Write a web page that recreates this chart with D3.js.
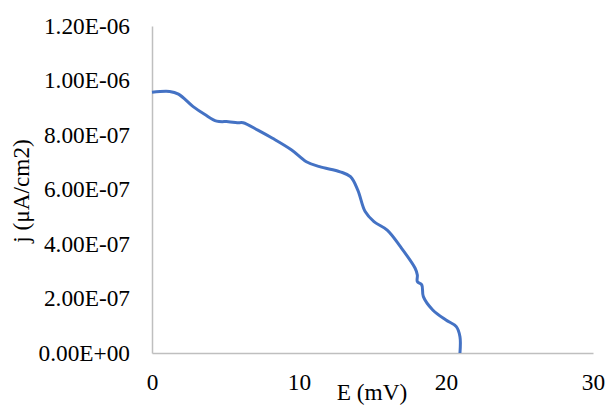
<!DOCTYPE html>
<html>
<head>
<meta charset="utf-8">
<script src="https://cdn.jsdelivr.net/npm/d3@7"></script>
<style>
  body { margin: 0; background: #fff; }
</style>
</head>
<body>
<svg width="606" height="406"></svg>
<script>
// E (mV) and j values
const eValues = [0, 1.2, 1.8, 2.8, 3.6, 4.4, 5.2, 5.8, 6.2, 7.2, 8.2, 9.5, 10.5, 11.4, 12.8, 13.5, 14.0, 14.5, 15.1, 16.0, 16.9, 17.9, 18.05, 18.05, 18.35, 18.46, 19.1, 20.0, 20.7, 20.95, 20.95];
const jValues = [0.957e-6, 0.96e-6, 0.95e-6, 0.904e-6, 0.875e-6, 0.851e-6, 0.849e-6, 0.845e-6, 0.845e-6, 0.818e-6, 0.788e-6, 0.745e-6, 0.702e-6, 0.684e-6, 0.665e-6, 0.647e-6, 0.598e-6, 0.519e-6, 0.482e-6, 0.451e-6, 0.39e-6, 0.311e-6, 0.286e-6, 0.262e-6, 0.25e-6, 0.207e-6, 0.158e-6, 0.121e-6, 0.097e-6, 0.06e-6, 0];
const xTicks = [0, 10, 20, 30];
const yTicks = [0, 2e-7, 4e-7, 6e-7, 8e-7, 1e-6, 1.2e-6];
const yTickLabels = ["0.00E+00", "2.00E-07", "4.00E-07", "6.00E-07", "8.00E-07", "1.00E-06", "1.20E-06"];

const data = eValues.map((e, i) => ({e: e, j: jValues[i]}));
const serif = "'Liberation Serif', 'Times New Roman', serif";
const fs = 23.3;

const svg = d3.select("svg");

const x = d3.scaleLinear().domain([0, 30]).range([152, 593]);
const y = d3.scaleLinear().domain([0, 1.2e-6]).range([353, 26]);

// x axis
const xAxis = svg.append("g")
  .attr("transform", "translate(0,353)")
  .call(d3.axisBottom(x).tickValues(xTicks).tickSize(0).tickPadding(20).tickFormat(d3.format("d")));
xAxis.attr("font-family", serif).attr("font-size", fs);
xAxis.select(".domain").attr("stroke", "#bfbfbf").attr("stroke-width", 1.5);
xAxis.selectAll("text").attr("fill", "#000");

// y axis
const yAxis = svg.append("g")
  .attr("transform", "translate(152,0)")
  .call(d3.axisLeft(y).tickValues(yTicks).tickSize(0).tickPadding(22)
    .tickFormat((d, i) => yTickLabels[i]));
yAxis.attr("font-family", serif).attr("font-size", fs);
yAxis.select(".domain").attr("stroke", "#bfbfbf").attr("stroke-width", 1.5);
yAxis.selectAll("text").attr("fill", "#000");

// the curve
const line = d3.line()
  .x(d => x(d.e))
  .y(d => y(d.j))
  .curve(d3.curveCatmullRom.alpha(0.5));

svg.append("path")
  .datum(data)
  .attr("fill", "none")
  .attr("stroke", "#4472c4")
  .attr("stroke-width", 3)
  .attr("stroke-linejoin", "round")
  .attr("d", line);

// axis titles
svg.append("text")
  .attr("x", 372)
  .attr("y", 400)
  .attr("text-anchor", "middle")
  .attr("font-family", serif)
  .attr("font-size", fs)
  .text("E (mV)");

svg.append("text")
  .attr("transform", "translate(28.5,191) rotate(-90)")
  .attr("text-anchor", "middle")
  .attr("font-family", serif)
  .attr("font-size", fs)
  .text("j (μA/cm2)");
</script>
</body>
</html>
